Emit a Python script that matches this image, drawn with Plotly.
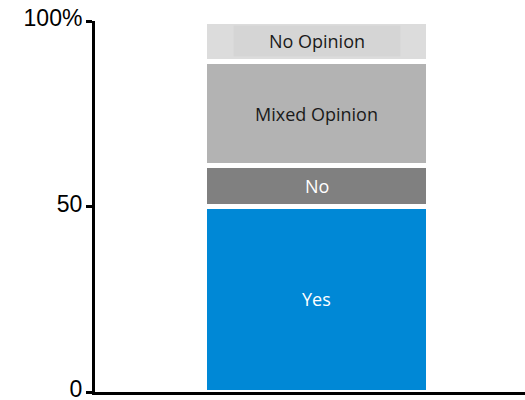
import plotly.graph_objects as go

categories = ["Yes", "No", "Mixed Opinion", "No Opinion"]
values = [50, 11, 28, 11]
colors = ["#0088D6", "#808080", "#B3B3B3", "#DCDCDC"]
text_colors = ["white", "white", "#1a1a1a", "#1a1a1a"]
tick_vals = [0, 50, 100]
tick_text = ["0", "50", "100%"]

fig = go.Figure()
base = 0
annotations = []
for cat, v, c, tc in zip(categories, values, colors, text_colors):
    fig.add_trace(go.Bar(
        x=[0], y=[v], name=cat, width=0.521,
        marker=dict(color=c, line=dict(color="white", width=5)),
        hoverinfo="skip",
    ))
    annotations.append(dict(
        x=0, y=base + v / 2, xref="x", yref="y", text=cat, showarrow=False,
        font=dict(family="Open Sans, Noto Sans, sans-serif", size=18, color=tc),
        bgcolor="#D5D5D5" if cat == "No Opinion" else None,
        borderpad=3 if cat == "No Opinion" else 1,
        width=160 if cat == "No Opinion" else None,
    ))
    base += v

fig.update_layout(
    barmode="stack",
    width=525, height=400,
    margin=dict(l=95, r=0, t=21, b=8, autoexpand=False),
    plot_bgcolor="white", paper_bgcolor="white",
    showlegend=False,
    annotations=annotations,
    xaxis=dict(range=[-0.516, 0.484], showticklabels=False, ticks="",
               showgrid=False, zeroline=False, showline=True, automargin=False,
               linecolor="black", linewidth=3, fixedrange=True),
    yaxis=dict(range=[0, 100], tickvals=tick_vals, ticktext=tick_text,
               ticks="outside", ticklen=6, tickwidth=3, tickcolor="black",
               ticklabeloverflow="allow", ticklabelstandoff=-1, ticklabelshift=-3,
               automargin=False,
               showgrid=False, zeroline=False, showline=True,
               linecolor="black", linewidth=3,
               tickfont=dict(family="Liberation Sans, Arial, sans-serif", size=23, color="black")),
)
fig.write_html("out.html")
